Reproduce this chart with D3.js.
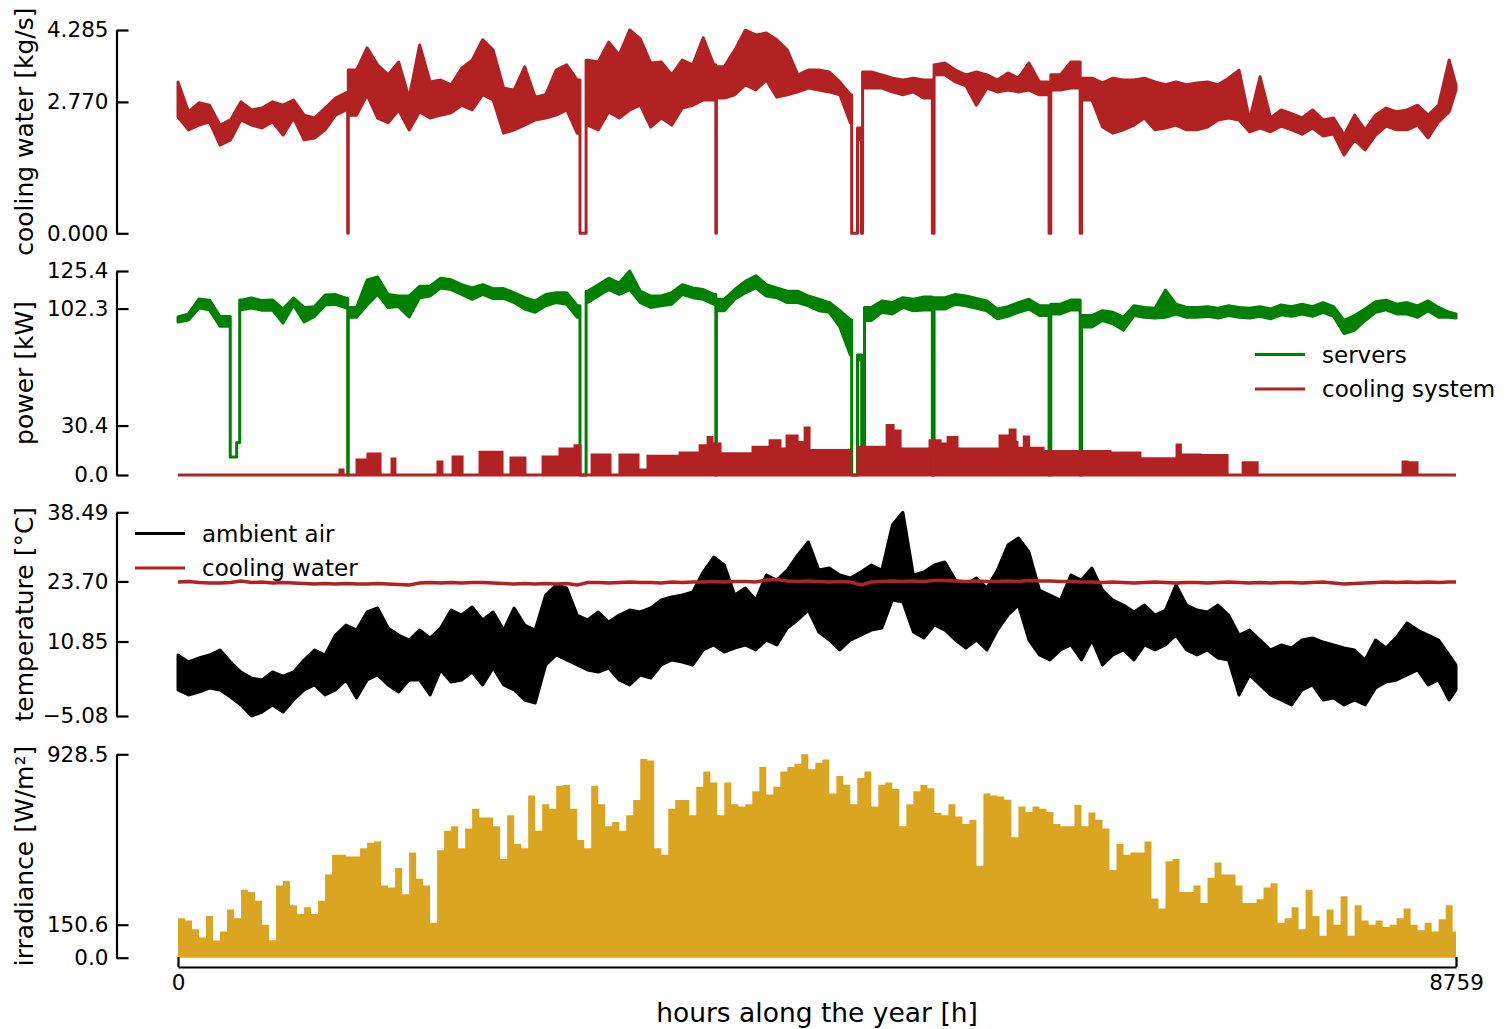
<!DOCTYPE html>
<html>
<head>
<meta charset="utf-8">
<script src="https://cdn.jsdelivr.net/npm/d3@7"></script>
<style>
  body { margin: 0; background: #fff; }
  text { font-family: "DejaVu Sans", sans-serif; }
</style>
</head>
<body>
<svg id="chart" width="1506" height="1029"></svg>
<script>
// sample hours: every 72 h (3 days) plus the last hour of the year
var hours = d3.range(0, 8760, 72).concat([8759]);
// irradiance daily-peak envelope, every 48 h
var irrHours = d3.range(0, 8760, 48);

// cooling water flow [kg/s], band high / low per sample
var flowHi = [3.19,2.56,2.75,2.70,2.28,2.39,2.77,2.60,2.64,2.77,
  2.70,2.81,2.49,2.43,2.64,2.85,2.96,3.44,3.91,3.55,
  3.34,3.61,2.85,3.97,3.19,3.23,3.13,3.48,3.65,4.08,
  3.86,3.06,3.02,3.51,2.87,2.92,3.44,3.55,3.23,3.65,
  3.61,4.03,3.76,4.285,4.10,3.59,3.61,3.34,3.65,3.55,
  4.12,3.55,3.51,3.86,4.28,4.18,4.22,4.08,3.86,3.34,
  3.44,3.44,3.40,3.19,2.92,2.22,3.40,3.34,3.27,3.23,
  3.27,3.23,3.55,3.59,3.44,3.34,3.40,3.34,3.23,3.38,
  3.27,3.59,3.19,3.13,3.34,3.61,3.48,3.27,3.17,3.27,
  3.23,3.23,3.27,3.19,3.13,3.19,3.13,3.17,3.19,3.13,
  3.27,3.44,2.39,3.30,2.43,2.60,2.52,2.43,2.60,2.39,
  2.43,2.07,2.49,2.18,2.49,2.64,2.56,2.60,2.70,2.49,
  2.70,3.65,3.13];
var flowLo = [2.45,2.18,2.28,2.35,1.86,1.97,2.39,2.28,2.22,2.35,
  2.07,2.43,1.97,2.01,2.18,2.49,2.60,2.49,2.92,2.43,
  2.33,2.60,2.18,2.56,2.43,2.49,2.54,2.70,2.60,2.92,
  2.81,2.11,2.18,2.28,2.39,2.43,2.49,2.60,2.11,2.28,
  2.18,2.56,2.43,2.60,2.70,2.24,2.43,2.28,2.64,2.70,
  2.81,2.81,2.85,2.92,3.13,3.02,3.23,2.87,2.92,2.98,
  3.06,3.02,2.98,2.92,2.33,1.97,3.06,3.06,2.98,2.92,
  2.98,2.85,3.34,3.34,3.19,3.11,2.70,3.06,2.98,3.02,
  2.98,3.02,2.92,2.87,3.02,3.06,2.92,2.81,2.24,2.11,
  2.18,2.28,2.43,2.18,2.22,2.28,2.18,2.18,2.24,2.39,
  2.43,2.39,2.14,2.22,2.14,2.26,2.18,2.09,2.22,2.05,
  2.09,1.65,1.97,1.76,2.07,2.26,2.18,2.18,2.28,2.01,
  2.35,2.56,3.02];
// hours when the plant stopped [start, end]
var flowOutages = [[1163,1167],[2755,2797],[3686,3690],[4617,4657],[4684,4692],
  [5170,5182],[5970,5982],[6183,6193]];

// servers power [kW]
var serversHi = [97.1,99.0,108.2,107.5,97.4,97.8,107.5,108.8,107.2,107.6,
  102,108.8,103,103.5,110.6,110.9,108.7,103,119.9,121.7,
  111,110,110,116,116,121,120,117,115,117,
  114.5,114.6,112,109,107,111,112,112,104,113,
  117,121,118,125.4,113,110,110,112,117,115,
  114,111,108,114,119,122.5,117,115,113,113,
  110,108,106,101,95.3,73.8,103,107,106,109,
  108,109.4,109,109,111,110,108.5,107,102,103.5,
  106,108,104,103.5,105,107.5,104,98,101,100,
  97,104,103,102.5,113.7,105,103,103,103.5,102.5,
  104,103,102.5,103.5,102,104.5,103.5,105,103.5,106,
  103.5,95,98,102,106.5,107.5,105,106,104,107,
  103,100,99];
var serversLo = [94.1,95.3,102.7,101.5,91.4,92.8,101.5,102.7,101.2,101.4,
  93.4,104.5,94.1,97.5,104.5,104.9,102.7,97,104.5,111,
  103,103.5,97.1,109,110,115,114,111,108,111,
  108.5,108.6,106,102,100,104,106,105,97,106,
  110,114,111,114,106,103,104,105,111,109,
  108,105,101,108,112,115,110,109,106,106,
  104,101,100,91,73.8,70.7,95,100,99,103,
  101,101.4,102,102,105,104,102.5,101,96,97.5,
  100,102,98,97.5,99,101.5,97,91,95,93,
  89,98,97,96.5,97,99,97,97,97.5,96.5,
  98,97,96.5,97.5,96,98.5,97.5,99,97.5,100,
  97.5,87,89,95,100,101.5,99,99,97,101,
  97,97,96.5];
// [start, end, level kW]
var serverOutages = [[358,402,11],[402,423,20],[1163,1167,0],[2755,2797,0],[3686,3690,0],
  [4617,4657,0],[4686,4705,10],[5170,5182,0],[5970,5982,0],[6183,6193,0]];

// cooling system power: [start h, end h, kW]
var coolingBlocks = [[1110,1131,3],[1227,1282,9.2],[1302,1385,12.9],[1467,1487,9.8],
  [1782,1809,8],[1885,1947,11.1],[2070,2221,14],[2282,2378,10.5],[2502,2618,11],
  [2618,2721,16],[2721,2755,18],[2838,2961,12.3],[3029,3153,12.3],[3153,3221,3.1],
  [3221,3441,11.5],[3441,3578,13.5],[3578,3633,18],[3633,3660,23],[3660,3686,19],
  [3690,3715,19],[3715,3941,13],[3941,4058,17],[4058,4126,21],[4126,4174,16],
  [4174,4243,24],[4243,4298,20],[4298,4325,28.9],[4325,4606,15],[4661,4860,17],
  [4860,4901,30.4],[4901,4949,27],[4949,5154,16],[5154,5170,21],[5182,5223,21],
  [5223,5278,19],[5278,5339,23],[5339,5634,16],[5634,5703,24],[5703,5737,27.7],
  [5737,5750,20],[5750,5800,16.5],[5800,5830,23.4],[5830,5929,16.5],[5929,5970,14.5],
  [5982,6183,14.5],[6193,6388,14.5],[6388,6593,13.5],[6593,6847,10],[6847,6870,18.4],
  [6870,7005,12.3],[7005,7190,12],[7300,7396,7.5],[8396,8424,8],[8444,8492,7.5]];

// ambient air temperature [°C], band high / low
var ambientHi = [7.97,6.47,7.32,7.97,9.04,6.47,4.33,3.05,2.62,4.33,
  3.47,4.33,6.90,9.04,7.97,12.24,14.38,13.31,17.16,18.02,
  13.74,12.24,11.17,13.31,11.60,13.74,17.59,16.52,18.23,15.45,
  17.16,13.31,18.02,14.38,13.31,20.80,22.94,22.30,16.52,15.45,
  17.16,15.02,16.52,17.59,17.16,18.02,19.73,20.37,20.80,21.44,
  25.72,28.93,27.22,20.80,22.30,19.73,25.08,24.01,26.15,29.36,
  32.14,26.15,26.57,25.08,24.43,25.72,27.22,26.15,35.77,38.49,
  25.08,25.72,27.22,27.86,24.01,22.94,24.43,22.30,26.15,31.49,
  32.99,30.00,21.87,20.80,19.73,25.08,24.01,26.57,21.87,19.73,
  18.66,17.16,18.66,16.52,17.59,22.94,18.66,17.59,17.16,18.66,
  16.52,12.24,13.31,11.17,9.04,10.11,9.46,11.17,11.60,10.74,
  10.11,9.46,9.04,6.90,11.17,9.46,11.81,14.81,13.31,12.24,
  11.17,7.97,5.83];
var ambientLo = [0.48,-0.59,0.05,0.91,0.48,-1.02,-2.73,-5.08,-4.23,-2.73,
  -4.23,-1.66,0.48,1.55,-0.59,0.48,2.62,-1.23,2.62,3.69,
  1.55,0.05,2.62,2.62,-0.59,4.76,2.19,2.62,4.33,1.55,
  5.19,1.55,0.48,-1.66,-2.30,5.83,7.97,6.90,5.83,4.76,
  4.33,5.19,2.62,1.55,3.69,3.05,5.83,6.90,6.47,5.83,
  9.04,10.11,8.61,9.46,10.11,9.04,11.17,10.11,13.74,15.45,
  17.59,12.88,11.17,9.04,11.17,12.24,13.31,13.74,19.73,19.30,
  12.88,11.60,14.38,13.31,11.17,9.46,11.17,9.04,13.31,16.52,
  18.66,11.17,7.97,6.90,9.04,10.11,6.90,11.17,5.83,7.97,
  9.04,6.90,10.11,9.04,10.11,12.24,9.04,7.97,9.04,7.32,
  6.90,-0.59,3.69,1.55,-0.59,-1.66,-2.73,0.48,1.55,-1.66,
  -1.23,-2.73,-1.66,-2.73,0.91,2.19,2.62,3.69,4.76,1.55,
  2.62,-1.66,0.48];
// cooling water temperature [°C]
var waterTemp = [23.58,23.69,23.47,23.37,23.37,23.47,23.80,23.47,23.58,23.37,
  23.47,23.37,23.26,23.15,23.26,23.15,23.26,23.15,23.15,23.26,
  23.15,23.05,22.94,23.37,23.47,23.37,23.47,23.37,23.47,23.47,
  23.37,23.26,23.15,23.26,23.15,23.26,23.15,23.26,22.94,23.47,
  23.47,23.37,23.47,23.58,23.47,23.47,23.37,23.58,23.47,23.58,
  23.58,23.69,23.58,23.69,23.69,23.58,24.01,24.11,23.80,23.69,
  23.80,23.69,23.58,23.69,23.58,22.94,23.58,23.69,23.80,23.69,
  23.80,23.69,23.90,23.90,23.80,23.69,23.80,23.69,23.69,23.80,
  23.69,23.90,23.80,23.80,23.69,23.69,23.58,23.58,23.47,23.58,
  23.47,23.37,23.47,23.58,23.47,23.37,23.47,23.47,23.37,23.47,
  23.58,23.47,23.37,23.47,23.37,23.47,23.47,23.37,23.47,23.58,
  23.37,23.15,23.26,23.37,23.47,23.58,23.47,23.58,23.47,23.58,
  23.47,23.58,23.58];

// solar irradiance daily peaks [W/m²]
var irradiance = [180,170,130,92,190,78,120,220,180,310,
  300,260,150,80,330,350,240,200,230,200,
  260,380,470,470,462,462,500,525,530,330,
  320,410,290,480,360,330,160,490,580,600,
  500,590,680,640,640,600,450,650,520,500,
  740,580,700,680,785,788,680,537,500,785,
  700,600,620,580,650,720,907,900,500,470,
  680,720,720,650,780,850,800,650,800,700,
  690,700,760,870,745,780,850,870,885,928.5,
  860,890,905,750,830,790,700,820,850,690,
  790,800,770,600,700,760,788,773,660,650,
  700,645,610,630,420,750,740,736,721,550,
  690,665,690,680,665,610,600,600,697,600,
  663,630,590,400,520,470,480,480,530,270,
  225,440,450,300,300,330,250,365,435,380,
  380,330,250,250,267,320,340,160,180,230,
  130,310,190,100,220,150,280,100,240,170,
  150,170,140,150,180,225,150,125,160,120,
  175,240,120];

var flowTicks = [0, 2.770, 4.285];
var powerTicks = [0, 30.4, 102.3, 125.4];
var tempTicks = [-5.08, 10.85, 23.70, 38.49];
var irrTicks = [0, 150.6, 928.5];

var RED = "#b22222", GREEN = "#008000", GOLD = "#daa520";

var svg = d3.select("#chart");

var x = d3.scaleLinear().domain([0, 8759]).range([178, 1456]);
var yFlow = d3.scaleLinear().domain([0, 4.285]).range([233.3, 30]);
var yPow = d3.scaleLinear().domain([0, 125.4]).range([475, 271]);
var yTemp = d3.scaleLinear().domain([-5.08, 38.49]).range([716, 512.3]);
var yIrr = d3.scaleLinear().domain([0, 928.5]).range([957.7, 754.3]);

// merge band samples with outage periods
function withOutages(lo, hi, outs){
  var pts = [];
  hours.forEach(function(h, i){
    var inside = outs.some(function(o){ return h >= o[0] && h <= o[1]; });
    if(!inside) pts.push({h: h, lo: lo[i], hi: hi[i]});
  });
  outs.forEach(function(o, k){
    var lvl = o[2] || 0;
    var p = d3.bisectLeft(hours, o[0]) - 1;
    var n = d3.bisectRight(hours, o[1]);
    var chainedBefore = k > 0 && outs[k-1][1] === o[0];
    var chainedAfter = k < outs.length - 1 && outs[k+1][0] === o[1];
    if(!chainedBefore) pts.push({h: o[0], lo: lo[p], hi: hi[p]});
    pts.push({h: o[0], lo: lvl, hi: lvl});
    pts.push({h: o[1], lo: lvl, hi: lvl});
    if(!chainedAfter) pts.push({h: o[1], lo: lo[n], hi: hi[n]});
  });
  return pts.sort(function(a, b){ return a.h - b.h; });
}

function band(y){
  return d3.area().x(function(d){ return x(d.h); })
    .y0(function(d){ return y(d.lo); })
    .y1(function(d){ return y(d.hi); });
}

// ---- panel 1: cooling water flow
svg.append("path")
  .datum(withOutages(flowLo, flowHi, flowOutages))
  .attr("d", band(yFlow))
  .attr("fill", RED).attr("stroke", RED)
  .attr("stroke-width", 3).attr("stroke-linejoin", "round");

// ---- panel 2: servers + cooling system
svg.append("path")
  .datum(withOutages(serversLo, serversHi, serverOutages))
  .attr("d", band(yPow))
  .attr("fill", GREEN).attr("stroke", GREEN)
  .attr("stroke-width", 3).attr("stroke-linejoin", "round");

var coolPts = [{h: 0, v: 0}];
coolingBlocks.forEach(function(b, k){
  coolPts.push({h: b[0], v: b[2]});
  var next = coolingBlocks[k+1];
  if(!next || next[0] !== b[1]) coolPts.push({h: b[1], v: 0});
});
coolPts.push({h: 8759, v: 0});

svg.append("path")
  .datum(coolPts)
  .attr("d", d3.area().curve(d3.curveStepAfter)
    .x(function(d){ return x(d.h); })
    .y0(yPow(0))
    .y1(function(d){ return yPow(d.v); }))
  .attr("fill", RED).attr("stroke", RED).attr("stroke-width", 3);

// ---- panel 3: temperatures
svg.append("path")
  .datum(hours.map(function(h, i){ return {h: h, lo: ambientLo[i], hi: ambientHi[i]}; }))
  .attr("d", band(yTemp))
  .attr("fill", "#000").attr("stroke", "#000")
  .attr("stroke-width", 3).attr("stroke-linejoin", "round");

svg.append("path")
  .datum(hours.map(function(h, i){ return {h: h, v: waterTemp[i]}; }))
  .attr("d", d3.line().x(function(d){ return x(d.h); }).y(function(d){ return yTemp(d.v); }))
  .attr("fill", "none").attr("stroke", RED).attr("stroke-width", 3.4);

// ---- panel 4: irradiance
var irrPts = irrHours.map(function(h, i){ return {h: h, v: irradiance[i]}; });
irrPts.push({h: 8759, v: irradiance[irradiance.length - 1]});
svg.append("path")
  .datum(irrPts)
  .attr("d", d3.area().curve(d3.curveStepAfter)
    .x(function(d){ return x(d.h); })
    .y0(yIrr(0))
    .y1(function(d){ return yIrr(d.v); }))
  .attr("fill", GOLD);

// ---- axes
function leftAxis(y, ticks, fmt, label){
  var g = svg.append("g")
    .attr("transform", "translate(116.5,0)")
    .call(d3.axisLeft(y).tickValues(ticks).tickFormat(d3.format(fmt))
      .tickSizeInner(-12).tickSizeOuter(0).tickPadding(8));
  g.attr("font-family", "DejaVu Sans").attr("font-size", 21.5);
  g.selectAll("path, line").attr("stroke", "#000").attr("stroke-width", 2.2);
  g.selectAll("text").attr("fill", "#000");
  var r = y.range();
  svg.append("text")
    .attr("transform", "translate(33," + (r[0] + r[1]) / 2 + ") rotate(-90)")
    .attr("text-anchor", "middle")
    .attr("font-size", 25)
    .text(label);
}
leftAxis(yFlow, flowTicks, ".3f", "cooling water [kg/s]");
leftAxis(yPow, powerTicks, ".1f", "power [kW]");
leftAxis(yTemp, tempTicks, ".2f", "temperature [°C]");
leftAxis(yIrr, irrTicks, ".1f", "irradiance [W/m²]");

var gx = svg.append("g")
  .attr("transform", "translate(0,967)")
  .call(d3.axisBottom(x).tickValues([0, 8759]).tickFormat(d3.format("d"))
    .tickSizeInner(-10).tickSizeOuter(0).tickPadding(8));
gx.attr("font-family", "DejaVu Sans").attr("font-size", 21.5);
gx.selectAll("path, line").attr("stroke", "#000").attr("stroke-width", 2.2);
gx.selectAll("text").attr("fill", "#000");

svg.append("text")
  .attr("x", 817).attr("y", 1022)
  .attr("text-anchor", "middle")
  .attr("font-size", 26.5)
  .text("hours along the year [h]");

// ---- legends
function legend(items, x0, y0, gap){
  items.forEach(function(it, i){
    var yy = y0 + i * gap;
    svg.append("line")
      .attr("x1", x0).attr("x2", x0 + 50)
      .attr("y1", yy).attr("y2", yy)
      .attr("stroke", it[1]).attr("stroke-width", 3.2);
    svg.append("text")
      .attr("x", x0 + 67).attr("y", yy + 8)
      .attr("font-size", 23)
      .text(it[0]);
  });
}
legend([["servers", GREEN], ["cooling system", RED]], 1255, 354.5, 34.5);
legend([["ambient air", "#000"], ["cooling water", RED]], 135, 533.5, 34.5);
</script>
</body>
</html>
